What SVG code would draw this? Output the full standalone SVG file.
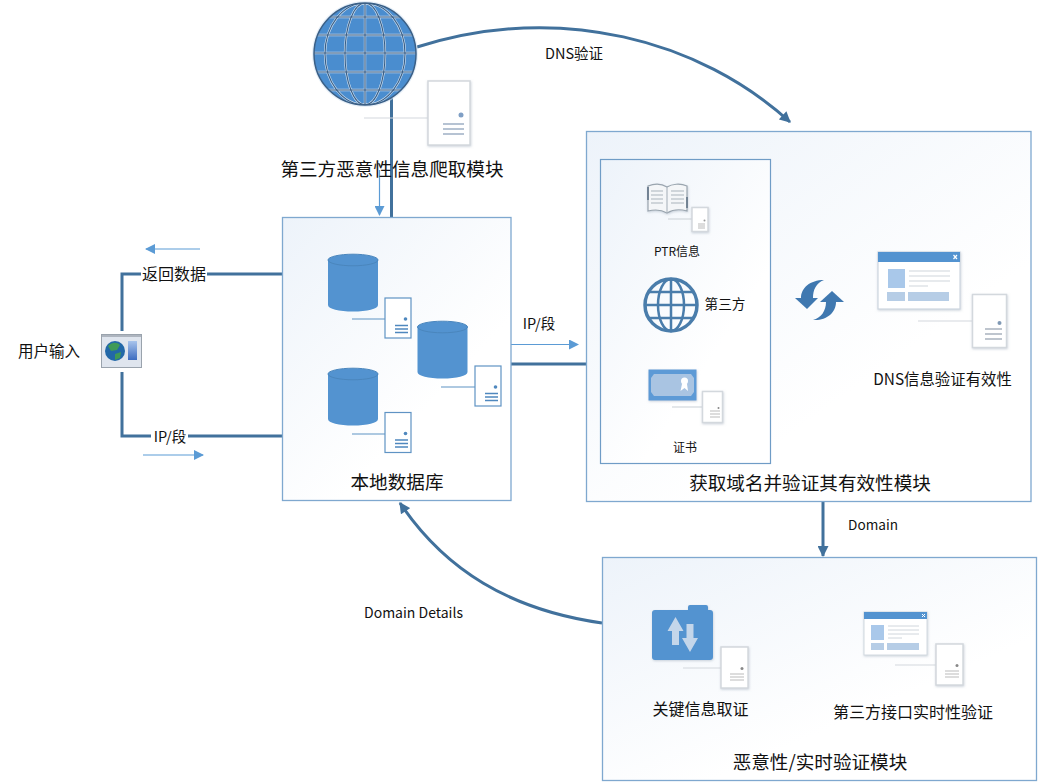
<svg xmlns="http://www.w3.org/2000/svg" width="1038" height="784" viewBox="0 0 1038 784">
<style>
text{font-family:"Noto Sans CJK SC","Liberation Sans",sans-serif;fill:#111}
.lg{font-size:18.600px}.md{font-size:16px}.mi{font-size:14.500px}.sm{font-size:13.600px}.xs{font-size:12px}
.box{stroke:#7fa8cf;stroke-width:1.300}
.thick{fill:none;stroke:#41719c;stroke-width:3}
.thin{fill:none;stroke:#5b9bd5;stroke-width:1.200}
.card{fill:#fff;stroke:#d3d8dd;stroke-width:1.500;filter:url(#sh)}
.cardb{fill:#fff;stroke:#5f93c4;stroke-width:1.200}
.cl{stroke:#d3d8dd;stroke-width:1.200;fill:none}
.clb{stroke:#5f93c4;stroke-width:1.200;fill:none}
.g1{fill:#5393d0}
</style>
<defs>
<filter id="sh" x="-20%" y="-20%" width="140%" height="140%"><feDropShadow dx="0.500" dy="1" stdDeviation="1" flood-color="#9aa8b8" flood-opacity=".5"/></filter>
<linearGradient id="bg" x1="0" y1="0" x2="0.6" y2="0.7"><stop offset="0" stop-color="#edf3fa"/><stop offset="1" stop-color="#fff"/></linearGradient>
<linearGradient id="bar" x1="0" y1="0" x2="0" y2="1"><stop offset="0" stop-color="#a8c4ec"/><stop offset="1" stop-color="#3d6cc0"/></linearGradient>
<clipPath id="gc"><circle cx="365" cy="54" r="51"/></clipPath>
<marker id="a1" viewBox="0 0 10 10" refX="9" refY="5" markerWidth="12" markerHeight="10" markerUnits="userSpaceOnUse" orient="auto"><path d="M0 0L10 5L0 10Z" fill="#5b9bd5"/></marker>
<marker id="a2" viewBox="0 0 10 10" refX="9" refY="5" markerWidth="12" markerHeight="11" markerUnits="userSpaceOnUse" orient="auto"><path d="M0 0L10 5L0 10Z" fill="#41719c"/></marker>
<g id="cyl"><path class="g1" d="M0 6V51C0 55 11 57.500 25 57.500S50 55 50 51V6Z"/><ellipse cx="25" cy="6" rx="25" ry="5.800" fill="#5393d0" stroke="#4a86bd" stroke-width="1"/></g>
<g id="bcard"><rect class="cardb" width="26" height="40"/><circle cx="20.500" cy="21" r="1.800" fill="#4f88be"/><path d="M10 27.500H23M10 31H23M10 34.500H23" stroke="#4f88be" stroke-width="1.600"/></g>
<g id="gcard"><rect class="card" width="42" height="64"/><circle cx="33" cy="34" r="2.500" fill="#7f9fc5"/><path d="M15 43H36M15 48H36M15 53H36" stroke="#9fb0c5" stroke-width="1.500"/></g>
<g id="scard"><rect class="card" width="16" height="24"/><circle cx="12.500" cy="13" r="1" fill="#999"/><path d="M6 16.500H13M6 18.500H13M6 20.500H13" stroke="#bbb" stroke-width="1"/></g>
<g id="mcard"><rect class="card" width="27" height="41"/><circle cx="21" cy="21.500" r="1.500" fill="#888"/><path d="M9 27H23M9 30H23M9 33H23" stroke="#bbb" stroke-width="1.100"/></g>
<g id="grid" fill="none"><ellipse cx="365" cy="54" rx="20" ry="51"/><ellipse cx="365" cy="54" rx="40" ry="51"/><path d="M365 3V105M314 53H416M314 35H416M314 72H416M314 17H416M314 90H416"/></g>
</defs>
<rect width="1038" height="784" fill="#fff"/>

<g id="connectors">
<path class="thick" d="M417 47C560 2 700 40 790 122" marker-end="url(#a2)"/>
<path class="thick" d="M391.500 98V217"/>
<path class="thin" d="M379.500 170V215" marker-end="url(#a1)"/>
<path class="thick" d="M122 331V274H282"/>
<path class="thick" d="M122 372V436H282"/>
<path class="thin" d="M200 249H146" marker-end="url(#a1)"/>
<path class="thin" d="M143 455H203" marker-end="url(#a1)"/>
<path class="thin" d="M511 344.500H578" marker-end="url(#a1)"/>
<path class="thick" d="M511 364H586"/>
<path class="thick" d="M823 501V556" marker-end="url(#a2)"/>
<path class="thick" d="M602 623C510 610 445 570 400 503" marker-end="url(#a2)"/>
</g>

<g id="globe">
<circle cx="365" cy="54" r="53" fill="#d5e5f4" opacity=".6"/>
<circle cx="365" cy="54" r="51" fill="#4a8dcf"/>
<g clip-path="url(#gc)">
<use href="#grid" stroke="#c9dcef" stroke-width="2.400"/>
<use href="#grid" stroke="#3a5f86" stroke-width="1.100"/>
</g>
<circle cx="365" cy="54" r="51" fill="none" stroke="#3a5f86" stroke-width="1.500"/>
</g>
<g id="crawler">
<path class="cl" d="M364 118H428"/>
<use href="#gcard" x="428" y="81"/>
<text class="lg" x="392" y="176" text-anchor="middle">第三方恶意性信息爬取模块</text>
</g>

<g id="user">
<rect x="101.500" y="334.500" width="40" height="33" fill="#dfe5ee" stroke="#9aa3ad"/>
<rect x="102" y="335" width="39" height="2" fill="#aeb5bf"/>
<circle cx="115" cy="351" r="10" fill="#2268a8"/>
<path d="M108 346C112 342 117 342 120 345L117 350L111 351ZM115 354L121 352L120 358L115 360Z" fill="#3f9a57"/>
<rect x="128" y="341" width="9" height="19" fill="url(#bar)"/>
<text class="mi" x="49" y="357" text-anchor="middle" style="font-size:15.500px">用户输入</text>
</g>
<rect x="141" y="264" width="66" height="20" fill="#fff"/>
<text class="md" x="174" y="279.500" text-anchor="middle">返回数据</text>
<rect x="151" y="428" width="37" height="17" fill="#fff"/>
<text class="mi" x="170" y="441.500" text-anchor="middle">IP/段</text>

<g id="localdb">
<rect class="box" x="282.500" y="217.500" width="228.500" height="283" fill="url(#bg)"/>
<use href="#cyl" x="328" y="254"/><use href="#cyl" x="417.500" y="321"/><use href="#cyl" x="328" y="368"/>
<path class="clb" d="M352 319H385M441 387H475M352 434H385"/>
<use href="#bcard" x="385" y="298"/><use href="#bcard" x="475" y="366"/><use href="#bcard" x="385" y="412.500"/>
<text class="lg" x="397" y="489" text-anchor="middle">本地数据库</text>
</g>
<text class="mi" x="539" y="329" text-anchor="middle">IP/段</text>

<g id="domainbox">
<rect class="box" x="586.500" y="131.500" width="444.500" height="370" fill="url(#bg)"/>
<rect x="600.500" y="159.500" width="170" height="304" fill="url(#bg)" stroke="#6f9cc6" stroke-width="1.200"/>
<g id="ptr">
<path d="M648 186C656 183 662 184 667 187C672 184 680 183 687 186V211C680 209 672 210 667 213C662 210 656 209 648 211Z" fill="#f4f6f8" stroke="#9aa5af" stroke-width="1.200" filter="url(#sh)"/>
<path d="M648 187V200M687 197V208" stroke="#5c6f82" stroke-width="1.500" fill="none"/>
<path d="M667 187V213M651 191H663M651 195H663M651 199H663M651 203H663M671 191H684M671 195H684M671 199H684M671 203H684" stroke="#aab3bc" stroke-width="1.100" fill="none"/>
<path class="cl" d="M668 219H692"/>
<use href="#scard" x="692" y="207.500"/>
<text class="xs" x="677" y="256" text-anchor="middle">PTR信息</text>
</g>
<g id="third" fill="none" stroke="#4a7dab" stroke-width="2.500">
<circle cx="671" cy="305" r="26" stroke-width="3.500"/><ellipse cx="671" cy="305" rx="13" ry="26"/>
<path d="M671 279V331M645 305H697M649 292H693M649 318H693"/>
</g>
<text class="sm" x="725" y="309" text-anchor="middle">第三方</text>
<g id="cert">
<rect x="648.500" y="369.500" width="48" height="31" fill="#5d9ad6" filter="url(#sh)"/>
<path d="M654 374H691L694 378V392L691 396H654L651 392V378Z" fill="#a9c4e2"/>
<circle cx="684.500" cy="381" r="3.500" fill="#fff"/><path d="M682 384L680.500 391L684.500 388L688 391L687 384Z" fill="#fff"/>
<path class="cl" d="M672 407H702"/>
<rect class="card" x="702.500" y="391.500" width="20" height="31"/>
<circle cx="718.500" cy="408" r="1" fill="#888"/><path d="M710 411H720M710 414H720M710 417H720" stroke="#bbb"/>
<text class="xs" x="685" y="452" text-anchor="middle">证书</text>
</g>
<g id="sync" fill="#3f78b0">
<path d="M795 298H818L807 309Z"/>
<path d="M801 298C801 288 810 280 824 280C816 283 813 290 813 298Z"/>
<path d="M820 302H844L832 291Z"/>
<path d="M836 302C836 313 826 321 813 320C821 318 826 311 826 302Z"/>
</g>
<g id="dnsverify">
<rect x="878" y="252" width="82" height="57" fill="#fff" stroke="#cdd6df" stroke-width="1.200" filter="url(#sh)"/>
<rect x="878" y="252" width="82" height="10" fill="#5393d0"/>
<path d="M953.500 255L957 259M957 255L953.500 259" stroke="#fff" stroke-width="1.200"/>
<rect x="888" y="269" width="17" height="19" fill="#a9c8ea"/><rect x="887" y="292" width="18" height="9" fill="#b6cde6"/><rect x="908" y="292" width="41" height="9" fill="#b6cde6"/>
<path d="M909 271H950M909 276H950M909 281H950M909 286H928" stroke="#d0d6dc" stroke-width="1.100"/>
<path class="cl" d="M918 321H972"/>
<rect class="card" x="972.500" y="294.500" width="34" height="53"/>
<circle cx="999.500" cy="323" r="2" fill="#8099b5"/><path d="M985 329H1002M985 334H1002M985 339H1002" stroke="#a9b3bf" stroke-width="1.400"/>
<text class="mi" x="942.500" y="385" text-anchor="middle" style="font-size:15.400px">DNS信息验证有效性</text>
</g>
<text class="lg" x="810" y="490" text-anchor="middle">获取域名并验证其有效性模块</text>
</g>
<text class="sm" x="873" y="529.500" text-anchor="middle">Domain</text>
<text class="mi" x="574" y="59" text-anchor="middle">DNS验证</text>
<text class="mi" x="413.500" y="617.500" text-anchor="middle" style="font-size:14px">Domain Details</text>

<g id="malicious">
<rect class="box" x="602.500" y="557.500" width="434" height="223" fill="url(#bg)"/>
<g id="keyinfo">
<path d="M655 610H688V607Q688 605 690 605H706Q708 605 708 607V610H710Q713 610 713 613V657Q713 660 710 660H655Q652 660 652 657V613Q652 610 655 610Z" fill="#5393d0" filter="url(#sh)"/>
<path d="M675.500 617L667.500 631H672V645H679V631H683.500ZM690 652L698 638H693.500V624H686.500V638H682Z" fill="#c4d6ea"/>
<path class="cl" d="M683 668H721"/>
<use href="#mcard" x="721" y="647"/>
<text class="md" x="700.500" y="715" text-anchor="middle">关键信息取证</text>
</g>
<g id="api">
<rect x="864" y="612" width="63" height="43" fill="#fff" stroke="#d2d9e0" filter="url(#sh)"/>
<rect x="864" y="612" width="63" height="7" fill="#5393d0"/>
<path d="M922 614L925 617M925 614L922 617" stroke="#fff"/>
<rect x="871" y="625" width="13" height="15" fill="#a9c8ea"/><rect x="871" y="643" width="13" height="7" fill="#b6cde6"/><rect x="887" y="643" width="32" height="7" fill="#b6cde6"/>
<path d="M888 626H919M888 630H919M888 634H919M888 638H902" stroke="#d0d6dc"/>
<path class="cl" d="M895 665H936"/>
<use href="#mcard" x="936" y="644"/>
<text class="md" x="913" y="718" text-anchor="middle">第三方接口实时性验证</text>
</g>
<text class="lg" x="820" y="769" text-anchor="middle">恶意性/实时验证模块</text>
</g>
</svg>
